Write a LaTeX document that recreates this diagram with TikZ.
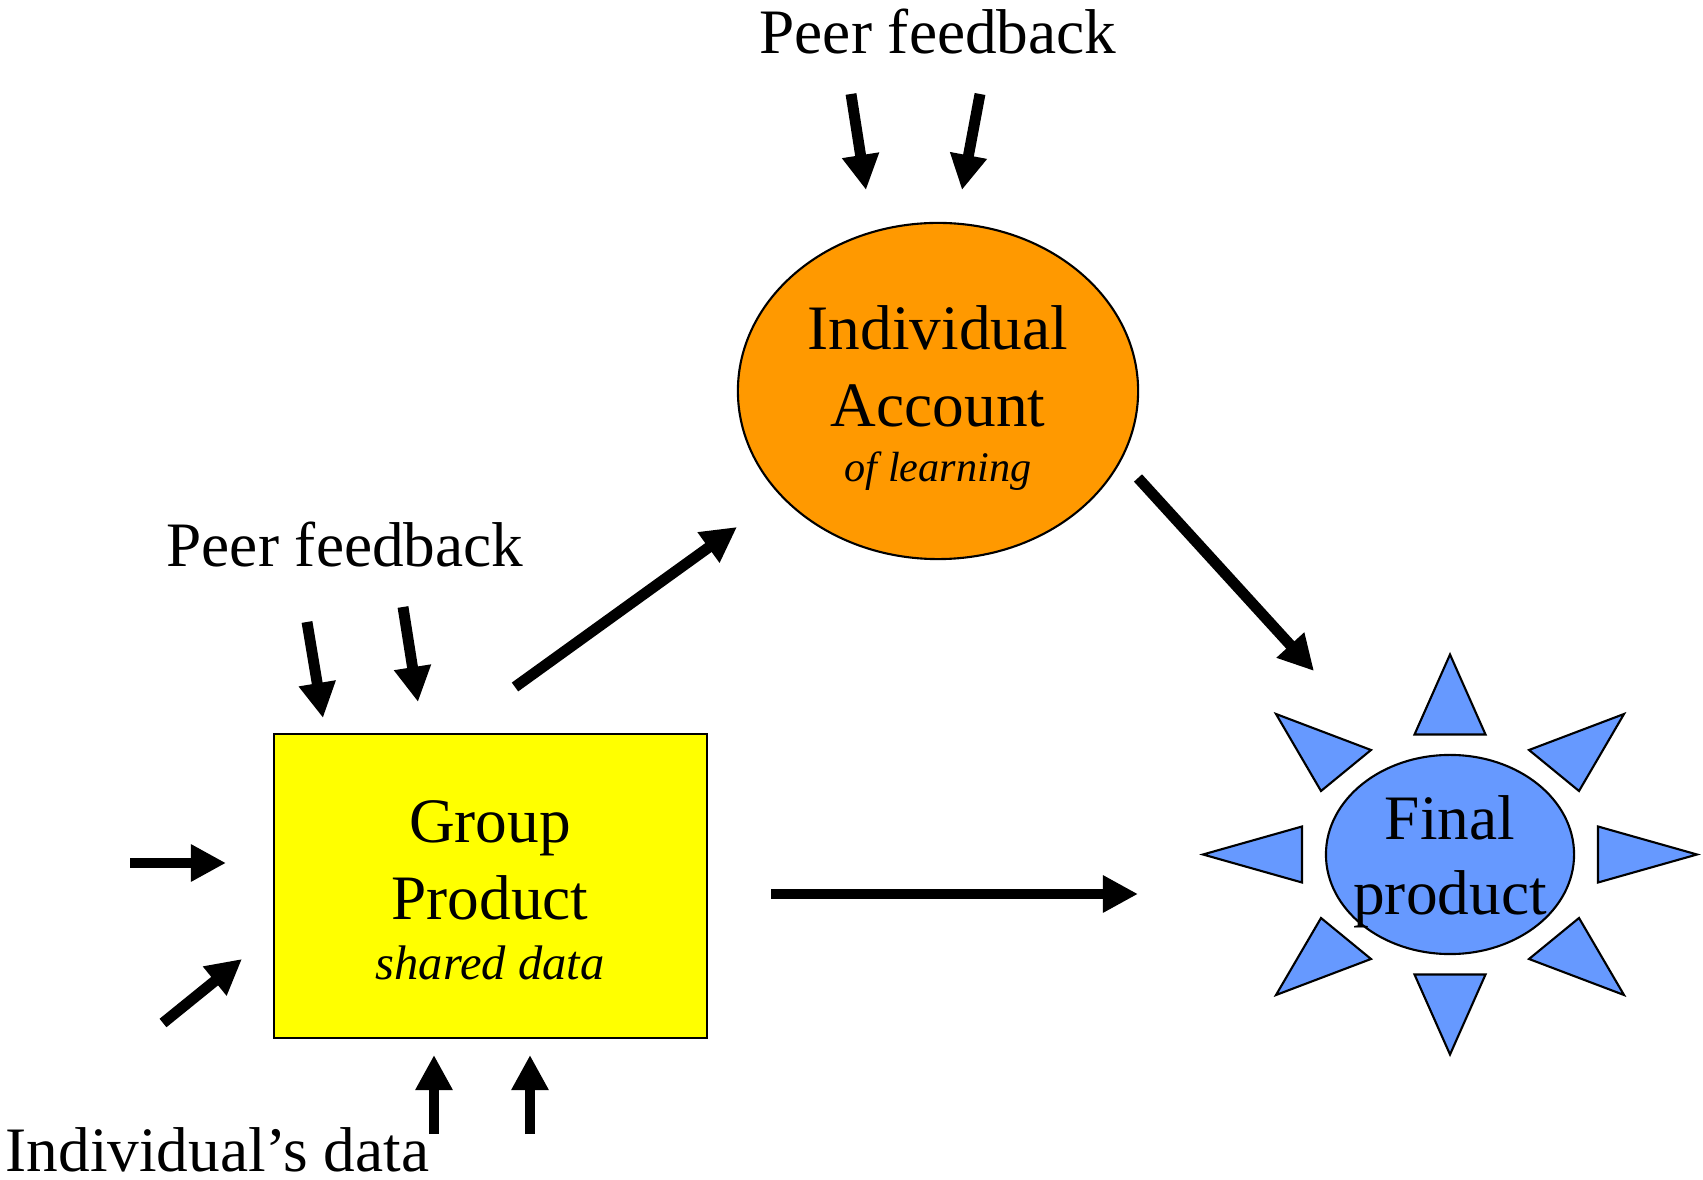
\documentclass[tikz,border=0pt]{standalone}
\usepackage{fontspec}
\setmainfont{Liberation Serif}
\usetikzlibrary{arrows.meta,shapes.geometric}
\definecolor{boxyellow}{HTML}{FFFF00}
\definecolor{accorange}{HTML}{FF9900}
\definecolor{sunblue}{HTML}{6699FF}
\tikzset{
    big/.style={font=\fontsize{18}{21.6}\selectfont, inner sep=0pt, anchor=base},
    sub/.style={font=\fontsize{13.8}{16}\selectfont\itshape, inner sep=0pt, anchor=base},
    fat/.style={line width=3.1pt, -{Triangle[length=10pt,width=10pt]}},
    ray/.style={draw=black, fill=sunblue, line width=0.6pt, line join=miter},
}

\begin{document}
\begin{tikzpicture}[x=0.01cm, y=-0.01cm]
    \useasboundingbox (0,0) rectangle (1703,1180);
    % the three shapes
    \node [draw, fill=boxyellow, line width=0.6pt, inner sep=0pt,
        minimum width=4.33cm, minimum height=3.04cm] (group) at (490.5,886) {};
    \node [ellipse, draw, fill=accorange, line width=0.6pt, inner sep=0pt,
        minimum width=4cm, minimum height=3.36cm] (account) at (938,391) {};
    \node [ellipse, draw, fill=sunblue, line width=0.6pt, inner sep=0pt,
        minimum width=2.48cm, minimum height=1.99cm] (final) at (1450,854.5) {};
    % rays of the sun
    \begin{scope}[shift={(1450,854.5)}]
        \foreach \s in {1,-1} {
            \draw [ray, yscale=\s] (0,-200) -- (35.5,-120) -- (-35.5,-120) -- cycle;
            \draw [ray, xscale=\s] (-247,0) -- (-148,-28) -- (-148,28) -- cycle;
        }
        \foreach \sx/\sy in {1/1,1/-1,-1/1,-1/-1}
            \draw [ray, xscale=\sx, yscale=\sy] (-174,-140.5) -- (-79,-104.5) -- (-129,-63.5) -- cycle;
    \end{scope}
    % texts
    \node [big] (fbtop) at (938,54) {Peer feedback};
    \node [big] (acc1) at (938,350) {Individual};
    \node [big] (acc2) at (938,427) {Account};
    \node [sub, font=\fontsize{12}{14}\selectfont\itshape] (acc3) at (938,482) {of learning};
    \node [big] (fbleft) at (345,567) {Peer feedback};
    \node [big] (grp1) at (490,843) {Group};
    \node [big] (grp2) at (490,920) {Product};
    \node [sub] (grp3) at (490,980) {shared data};
    \node [big] (fin1) at (1450,840) {Final};
    \node [big] (fin2) at (1450,915) {product};
    \node [big, anchor=base west] (indata) at (5,1171) {Individual's data};
    % arrow ends
    \coordinate (ta0) at (851,94);   \coordinate (ta1) at (866,190);
    \coordinate (tb0) at (980,94);   \coordinate (tb1) at (962,190);
    \coordinate (la0) at (307,622);  \coordinate (la1) at (323,718);
    \coordinate (lb0) at (403,607);  \coordinate (lb1) at (418,702);
    \coordinate (sa0) at (130,863);  \coordinate (sa1) at (226,863);
    \coordinate (sb0) at (163,1023); \coordinate (sb1) at (242,959);
    \coordinate (ba0) at (434,1134); \coordinate (ba1) at (434,1055);
    \coordinate (bb0) at (530,1134); \coordinate (bb1) at (530,1055);
    \coordinate (ga0) at (515,687);  \coordinate (ga1) at (737,527);
    \coordinate (af0) at (1138,478); \coordinate (af1) at (1314,671);
    \coordinate (gf0) at (771,894);  \coordinate (gf1) at (1138,894);
    \foreach \a in {ta,tb,la,lb,sa,sb,ba,bb,ga,af,gf}
        \draw [fat] (\a0) -- (\a1);
\end{tikzpicture}
\end{document}
